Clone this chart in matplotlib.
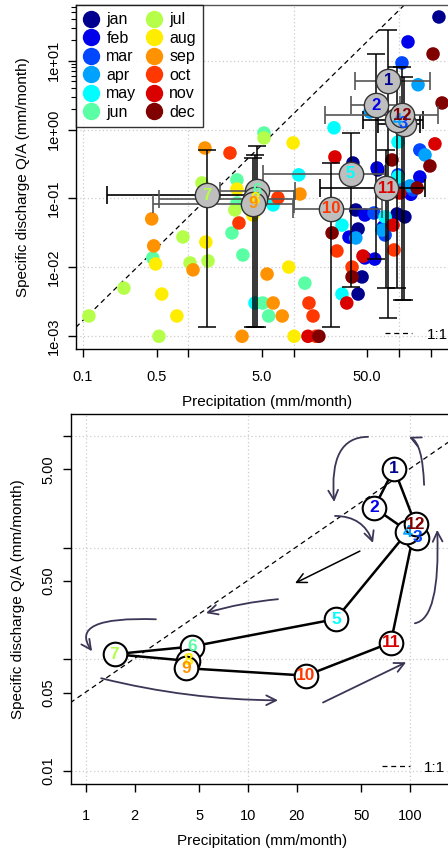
import math
import matplotlib
matplotlib.use("Agg")
import matplotlib.pyplot as plt
from matplotlib.lines import Line2D

plt.rcParams['font.family'] = ['Liberation Sans', 'DejaVu Sans']

month_names = ["jan", "feb", "mar", "apr", "may", "jun",
               "jul", "aug", "sep", "oct", "nov", "dec"]
month_colors = ["#00008F", "#0000EA", "#0047FF", "#00A2FF", "#00FEFF", "#5AFFA5",
                "#B5FF4A", "#FFED00", "#FF9200", "#FF3700", "#DB0000", "#800000"]

# monthly means (precipitation, specific discharge), mm/month
mean_precip = [79.6, 60, 111, 96, 34.8, 4.49, 1.50, 4.28, 4.14, 22.8, 76, 108]
mean_q = [5.07, 2.27, 1.22, 1.37, 0.229, 0.130, 0.111, 0.0968, 0.0832, 0.0714, 0.141, 1.61]

# spread of the single years around the means
precip_lo = [38.3, 35, 63, 45.6, 5.1, 2.0, 0.169, 0.53, 0.46, 9.9, 17.8, 19.9]
precip_hi = [197, 102, 158, 169, 74, 10.3, 3.6, 10.1, 10.1, 69, 177, 235]
q_lo = [0.00184, 0.0132, 0.00337, 0.00504, 0.0052, 0.00136, 0.00136, 0.00136,
        0.00136, 0.00136, 0.00504, 0.00337]
q_hi = [27.9, 12.5, 5.8, 8.1, 0.89, 0.58, 0.51, 0.43, 0.39, 0.33, 0.51, 8.1]
bar_colors = ["#555555", "#555555", "black", "black", "#555555", "#555555",
              "black", "#555555", "#555555", "#555555", "black", "#555555"]

# single months
pt_month = ([1] * 9 + [2] * 9 + [3] * 6 + [4] * 7 + [5] * 9 + [6] * 9 +
            [7] * 9 + [8] * 9 + [9] * 9 + [10] * 9 + [11] * 7 + [12] * 8)
pt_precip = [240, 36.6, 63, 39, 41, 96, 114, 44.7, 41,
             122, 62, 47.6, 33.6, 47.6, 59, 71, 158, 130,
             107, 158, 58, 74, 136, 98,
             152, 53, 177, 39, 69, 127, 100,
             24.2, 98, 11.2, 28.8, 74, 28.8, 6.4, 4.3, 98,
             5.24, 2.9, 2.6, 0.46, 3.3, 12.8, 5.1, 5.8, 2.9,
             5.24, 1.35, 2.77, 0.89, 1.04, 1.54, 0.245, 0.114, 0.527,
             9.9, 2.9, 4.1, 1.47, 0.49, 9.0, 0.56, 0.78, 10.1,
             1.44, 11.5, 0.45, 0.47, 1.11, 5.6, 6.4, 7.8, 3.24,
             2.49, 7.1, 3.03, 14.0, 15.3, 25.8, 35.9, 90, 16.3,
             220, 24.7, 45.6, 32, 88, 102, 13.7,
             211, 257, 86, 197, 23.2, 35.9, 17.4, 149]
pt_q = [43, 0.327, 0.259, 0.068, 0.036, 0.0596, 0.054, 0.00726, 0.0041,
        18.7, 0.277, 0.0575, 0.0275, 0.0137, 0.0132, 0.0385, 0.205, 0.115,
        9.27, 0.505, 0.0615, 0.0295, 0.133, 0.22,
        4.47, 1.80, 0.428, 0.0267, 0.0348, 0.152, 0.147,
        1.06, 0.66, 0.22, 0.041, 0.054, 0.0041, 0.0805, 0.00304, 0.205,
        0.89, 0.186, 0.0316, 0.0137, 0.0151, 0.0059, 0.00304, 0.00197, 0.086,
        0.755, 0.168, 0.068, 0.0276, 0.0116, 0.0124, 0.005, 0.00197, 0.001,
        0.64, 0.137, 0.0575, 0.0233, 0.0112, 0.0101, 0.0041, 0.00197, 0.001,
        0.54, 0.116, 0.0505, 0.0205, 0.0092, 0.008, 0.00304, 0.00197, 0.001,
        0.457, 0.102, 0.0441, 0.00304, 0.00197, 0.0173, 0.0101, 0.0179, 0.001,
        0.62, 0.40, 0.0146, 0.00304, 0.041, 0.12, 0.001,
        12.5, 2.43, 0.362, 0.296, 0.0316, 0.00726, 0.001, 0.142]

# reference lines
top_ref_x = [0.0859, 130]
top_ref_slope, top_ref_offset = 1.5, -1.27   # log10(Q) = offset + slope*log10(P)
bottom_ref_x = [0.8, 200]
bottom_ref_ratio = 0.051

# hand drawn arrows in the lower panel: (start, end, connection style, colour)
PURPLE = "#3d3556"
arrows = [((55, 9.8), (34, 2.56), "angle3,angleA=180,angleB=95", PURPLE),
          ((122, 3.64), (98.6, 9.8), "angle3,angleA=92,angleB=-25", PURPLE),
          ((107, 0.21), (147, 1.44), "angle3,angleA=10,angleB=92", PURPLE),
          ((34.4, 1.92), (59, 1.1), "arc3,rad=-0.35", PURPLE),
          ((49, 0.93), (19.5, 0.48), "arc3,rad=0", "black"),
          ((15.3, 0.345), (5.5, 0.259), "arc3,rad=0.05", PURPLE),
          ((2.7, 0.228), (1.09, 0.118), "angle3,angleA=178,angleB=125", PURPLE),
          ((1.24, 0.0676), (15.3, 0.0429), "arc3,rad=0.06", PURPLE),
          ((29, 0.041), (94.5, 0.094), "arc3,rad=0", PURPLE)]

fig = plt.figure(figsize=(4.48, 8.52), dpi=100)
ax1 = fig.add_axes([0.1696, 0.5904, 0.8527, 0.4038])
ax2 = fig.add_axes([0.1585, 0.0798, 0.8527, 0.4343])

grid_kw = dict(color="#CCCCCC", lw=0.9, ls=(0, (1, 2)), zorder=0)

# ---- top panel
ax1.set_xscale("log")
ax1.set_yscale("log")
ax1.set_xlim(0.0859, 364)
ax1.set_ylim(6.54e-4, 64.3)
for v in [0.1, 1, 10, 100]:
    ax1.axvline(v, **grid_kw)
for v in [1e-3, 1e-2, 1e-1, 1, 10]:
    ax1.axhline(v, **grid_kw)

ref_y = [10 ** (top_ref_offset + top_ref_slope * math.log10(x)) for x in top_ref_x]
ax1.plot(top_ref_x, ref_y, color="black", ls=(0, (4, 3)), lw=0.9, zorder=1)

ax1.scatter(pt_precip, pt_q, s=95, c=[month_colors[m - 1] for m in pt_month],
            edgecolors="none", zorder=2)

for i in range(12):
    xe = [[mean_precip[i] - precip_lo[i]], [precip_hi[i] - mean_precip[i]]]
    ye = [[mean_q[i] - q_lo[i]], [q_hi[i] - mean_q[i]]]
    ax1.errorbar([mean_precip[i]], [mean_q[i]], xerr=xe, fmt="none",
                 ecolor=bar_colors[i], elinewidth=1.2, capsize=6.5, capthick=1.2, zorder=3)
    ax1.errorbar([mean_precip[i]], [mean_q[i]], yerr=ye, fmt="none",
                 ecolor="black", elinewidth=1.1, capsize=6.5, capthick=1.1, zorder=3)

ax1.plot(mean_precip, mean_q, ls="none", marker="o", ms=17.5, mfc="#BEBEBE",
         mec="#333333", mew=1.0, zorder=4)
for i in range(12):
    ax1.text(mean_precip[i], mean_q[i], str(i + 1), color=month_colors[i],
             fontsize=12, fontweight="bold", ha="center", va="center", zorder=5)

handles = [Line2D([], [], ls="none", marker="o", ms=11.5, mfc=c, mec=c)
           for c in month_colors]
leg = ax1.legend(handles, month_names, loc="upper left", ncol=2, fontsize=11.5,
                 frameon=True, fancybox=False, borderaxespad=0.0, borderpad=0.45,
                 labelspacing=0.22, handlelength=1.0, handletextpad=0.45,
                 columnspacing=0.6)
leg.get_frame().set_edgecolor("black")
leg.get_frame().set_linewidth(1.0)
leg.set_zorder(6)

ax1.plot([0.808, 0.88], [0.047, 0.047], transform=ax1.transAxes, color="black",
         ls=(0, (4, 3)), lw=0.9)
ax1.text(0.918, 0.04, "1:1", transform=ax1.transAxes, fontsize=11, va="center")

ax1.set_xticks([0.1, 0.5, 1, 5, 10, 50, 100, 200],
               ["0.1", "0.5", "", "5.0", "", "50.0", "", ""])
ax1.set_yticks([1e-3, 1e-2, 1e-1, 1, 10],
               ["1e-03", "1e-02", "1e-01", "1e+00", "1e+01"])
ax1.set_yticks([2, 3, 4, 5, 6, 7, 8, 9, 20, 30, 40, 50, 60], minor=True)
ax1.set_xticks([], minor=True)
ax1.tick_params(axis="x", which="major", length=6, width=1, pad=9, labelsize=10.5)
ax1.tick_params(axis="y", which="major", length=6, width=1, pad=5, labelsize=10.5,
                labelrotation=90)
ax1.tick_params(axis="y", which="minor", length=3.5, width=0.8, labelleft=False)
for lab in ax1.get_yticklabels():
    lab.set_va("center")
ax1.set_xlabel("Precipitation (mm/month)", fontsize=11)
ax1.set_ylabel("Specific discharge Q/A (mm/month)", fontsize=11)
ax1.xaxis.set_label_coords(0.5, -0.135)
ax1.yaxis.set_label_coords(-0.12, 0.5)
for s in ax1.spines.values():
    s.set_linewidth(1.0)
ax1.spines["top"].set_color("#555555")

# ---- bottom panel
ax2.set_xscale("log")
ax2.set_yscale("log")
ax2.set_xlim(0.808, 184)
ax2.set_ylim(0.00764, 15.7)
for v in [1, 10, 100]:
    ax2.axvline(v, **grid_kw)
for v in [0.01, 0.1, 1, 10]:
    ax2.axhline(v, **grid_kw)

ax2.plot(bottom_ref_x, [x * bottom_ref_ratio for x in bottom_ref_x], color="black",
         ls=(0, (4, 3)), lw=0.9, zorder=1)

for (start, end, style, col) in arrows:
    ax2.annotate("", xy=end, xytext=start,
                 arrowprops=dict(arrowstyle="->,head_length=0.7,head_width=0.35",
                                 color=col, lw=1.3 if col != "black" else 1.1,
                                 connectionstyle=style, shrinkA=0, shrinkB=0),
                 zorder=2)

ax2.plot(mean_precip + mean_precip[:1], mean_q + mean_q[:1], color="black", lw=1.8, zorder=3)
for i in range(12):
    ax2.plot([mean_precip[i]], [mean_q[i]], marker="o", ms=17, mfc="white",
             mec="black", mew=1.5, zorder=4 + i * 0.01)
for i in range(12):
    ax2.text(mean_precip[i], mean_q[i], str(i + 1), color=month_colors[i],
             fontsize=12.5, fontweight="bold", ha="center", va="center", zorder=5)

ax2.plot([0.814, 0.887], [0.049, 0.049], transform=ax2.transAxes, color="black",
         ls=(0, (4, 3)), lw=0.9)
ax2.text(0.925, 0.042, "1:1", transform=ax2.transAxes, fontsize=11, va="center")

ax2.set_xticks([1, 2, 5, 10, 20, 50, 100],
               ["1", "2", "5", "10", "20", "50", "100"])
ax2.set_xticks([], minor=True)
ax2.set_yticks([0.01, 0.05, 0.1, 0.5, 1, 5, 10],
               ["0.01", "0.05", "", "0.50", "", "5.00", ""])
ax2.set_yticks([], minor=True)
ax2.tick_params(axis="x", length=6, width=1, pad=12, labelsize=10.5)
ax2.tick_params(axis="y", length=6, width=1, pad=5, labelsize=10.5, labelrotation=90)
for lab in ax2.get_yticklabels():
    lab.set_va("center")
ax2.set_xlabel("Precipitation (mm/month)", fontsize=11)
ax2.set_ylabel("Specific discharge Q/A (mm/month)", fontsize=11)
ax2.xaxis.set_label_coords(0.5, -0.135)
ax2.yaxis.set_label_coords(-0.12, 0.5)
for s in ax2.spines.values():
    s.set_linewidth(1.0)

fig.savefig("out.png", dpi=100)
